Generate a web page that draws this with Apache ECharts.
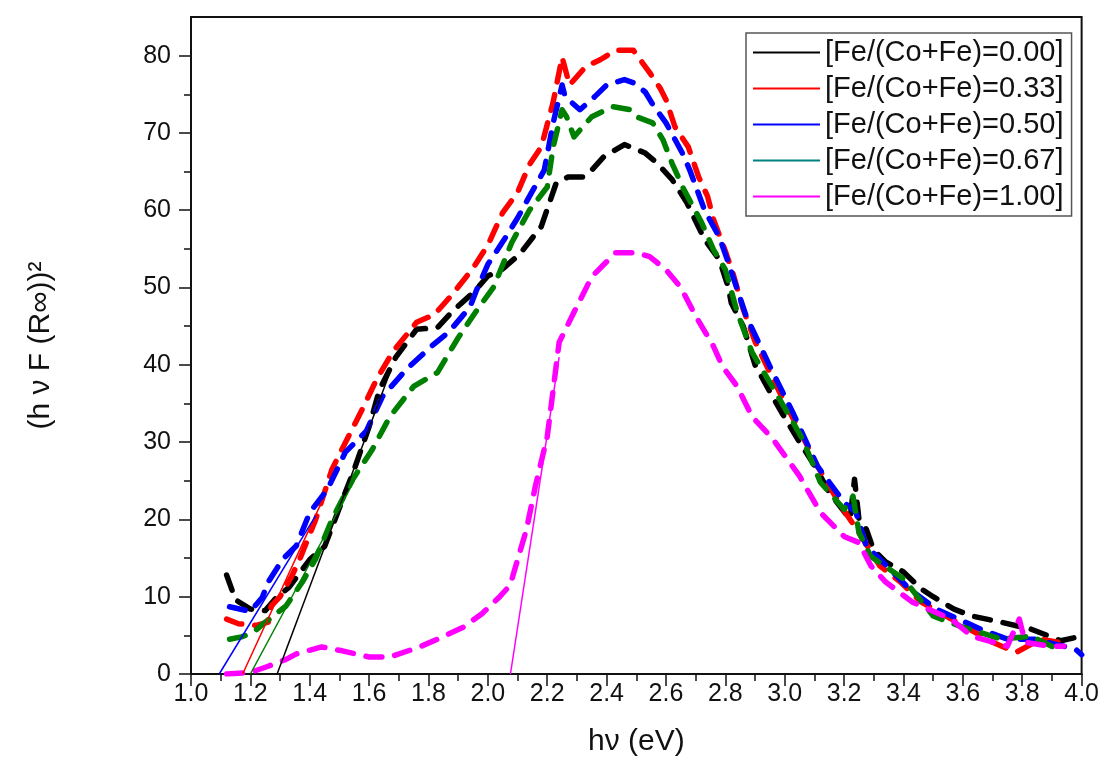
<!DOCTYPE html>
<html>
<head>
<meta charset="utf-8">
<script src="https://cdn.jsdelivr.net/npm/echarts@6/dist/echarts.min.js"></script>
<style>
html,body{margin:0;padding:0;background:#fff;}
#chart{width:1102px;height:762px;}
</style>
</head>
<body>
<div id="chart"></div>
<script>
// ---- data ----
const seriesNames = ['[Fe/(Co+Fe)=0.00]', '[Fe/(Co+Fe)=0.33]', '[Fe/(Co+Fe)=0.50]', '[Fe/(Co+Fe)=0.67]', '[Fe/(Co+Fe)=1.00]'];
const xTicks = [1.0, 4.0, 0.2];
const yMajorTicks = [0, 10, 20, 30, 40, 50, 60, 70, 80];
const yMinorTicks = [5, 15, 25, 35, 45, 55, 65, 75];

const fe000 = [[1.12,12.8],[1.15,9.6],[1.2,8.4],[1.25,8.2],[1.29,10],[1.33,11.2],[1.4,14.8],[1.45,16.5],[1.5,21.5],[1.55,26.5],[1.6,32],[1.635,36.8],[1.69,41],[1.76,44.6],[1.83,44.8],[1.88,46.9],[1.955,49.5],[2.0,51.5],[2.046,52.3],[2.107,54.3],[2.18,57.9],[2.23,63.5],[2.27,64.3],[2.32,64.3],[2.35,65.2],[2.39,66.9],[2.46,68.5],[2.53,67.4],[2.57,66.1],[2.62,64],[2.67,61],[2.73,56.2],[2.78,53.6],[2.81,50],[2.82,48],[2.86,45],[2.9,40],[2.95,36.5],[2.99,33.8],[3.05,30],[3.1,27],[3.15,23.5],[3.2,21],[3.22,20],[3.235,25.2],[3.25,20],[3.275,18.7],[3.3,16],[3.34,14.5],[3.4,13.2],[3.46,11],[3.5,10],[3.57,8.4],[3.63,7.5],[3.73,6.7],[3.83,5.8],[3.93,4.3],[4.0,4.9]];
const fe033 = [[1.12,7.1],[1.16,6.5],[1.22,6.3],[1.26,6.7],[1.27,8.8],[1.3,10],[1.34,12.7],[1.37,15.2],[1.42,20],[1.475,26.5],[1.53,30.7],[1.58,34.5],[1.625,38.1],[1.68,41.7],[1.76,45.5],[1.82,46.5],[1.88,49.1],[1.95,52.5],[2.0,55.5],[2.05,59.7],[2.1,62.3],[2.14,65.9],[2.18,68.2],[2.22,74],[2.25,79.8],[2.275,76.2],[2.33,78.6],[2.38,79.5],[2.43,80.7],[2.49,80.7],[2.545,77.8],[2.58,75.8],[2.6,74.3],[2.63,70.8],[2.675,68.2],[2.71,64.3],[2.74,61.8],[2.76,58.8],[2.8,54.7],[2.825,51.9],[2.86,47.2],[2.9,43],[2.94,39.8],[3.0,35.1],[3.07,30],[3.11,26.9],[3.19,21.7],[3.25,18.3],[3.32,14],[3.39,11.9],[3.46,9.3],[3.58,6.7],[3.7,4.1],[3.78,2.8],[3.86,4.5],[3.92,4.1]];
const fe050 = [[1.13,8.7],[1.2,8.1],[1.24,9.9],[1.26,11.9],[1.31,14.9],[1.355,16.6],[1.4,20.9],[1.46,23.9],[1.52,28.7],[1.59,31.4],[1.645,35.9],[1.725,39.4],[1.81,42.4],[1.87,44.3],[1.94,47.5],[1.96,49.5],[2.0,53],[2.06,56.5],[2.1,59],[2.14,61.8],[2.19,65.2],[2.22,71.3],[2.25,76.2],[2.26,74.7],[2.31,73],[2.36,74.7],[2.4,76.2],[2.46,76.9],[2.49,76.5],[2.53,75.3],[2.56,73.4],[2.6,71.3],[2.655,67.4],[2.68,65.2],[2.73,60],[2.78,56.5],[2.81,53.2],[2.87,46.3],[2.95,39.8],[3.03,33.6],[3.11,26.9],[3.2,22.2],[3.24,20.9],[3.275,16.5],[3.32,14.9],[3.42,11],[3.51,8.4],[3.66,5.8],[3.75,4.5],[3.84,4.5],[3.98,3.2],[4.0,2.5]];
const fe067 = [[1.13,4.5],[1.17,4.8],[1.21,5.4],[1.25,6.7],[1.32,8.8],[1.375,11.9],[1.42,14.9],[1.475,20],[1.545,25.2],[1.61,29],[1.67,33.3],[1.75,37.2],[1.83,39],[1.9,43.5],[1.96,46.9],[2.02,50.1],[2.08,55.8],[2.14,60],[2.2,63],[2.22,68.2],[2.25,73],[2.265,72.1],[2.29,69.5],[2.35,72.1],[2.42,73.4],[2.48,73],[2.5,72.1],[2.555,71.3],[2.59,69.1],[2.62,66.1],[2.66,62.7],[2.72,58.4],[2.76,54.9],[2.8,52.3],[2.84,46.8],[2.89,41.6],[2.97,36.4],[3.06,30.4],[3.12,24.8],[3.2,21.3],[3.23,23],[3.25,18.3],[3.29,15.2],[3.4,12.3],[3.5,7.5],[3.59,6.2],[3.73,4.5],[3.83,4.9],[3.92,3.2]];
const fe100 = [[1.12,0],[1.2,0.2],[1.26,1],[1.32,1.9],[1.355,2.6],[1.44,3.5],[1.51,3],[1.6,2.2],[1.67,2.2],[1.77,3.5],[1.83,4.5],[1.915,6],[1.98,7.8],[2.04,10],[2.075,11.5],[2.13,18.7],[2.16,24.3],[2.2,30.7],[2.22,36.8],[2.24,42.9],[2.29,46.8],[2.35,51.4],[2.43,54.5],[2.5,54.5],[2.545,54],[2.6,52.3],[2.65,50],[2.7,46.3],[2.76,42.4],[2.79,39.8],[2.84,37.2],[2.89,33.3],[2.96,30.4],[3.05,25.6],[3.12,20.9],[3.2,17.8],[3.25,17],[3.29,14],[3.34,11.9],[3.43,9.3],[3.56,7.1],[3.63,4.9],[3.75,3.6],[3.79,7.1],[3.81,4.1],[3.89,3.6],[3.94,3.6]];

// tangent (band-gap) fit lines
const fit000 = [[1.29,0],[1.67,39]];
const fit033 = [[1.174,0],[1.443,22.5]];
const fit050 = [[1.095,0],[1.42,20.5]];
const fit067 = [[1.2,0],[1.55,25]];
const fit100 = [[2.076,0],[2.24,41]];

// ---- styles ----
const plotColors = ['#000000', '#ff0000', '#0000ff', '#008000', '#ff00ff'];
const legendColors = ['#000000', '#ff0000', '#0000ff', '#008080', '#ff00ff'];
const curves = [fe000, fe033, fe050, fe067, fe100];
const fits = [fit000, fit033, fit050, fit067, fit100];
const FONT = '"Liberation Sans", Arial, sans-serif';

const series = [];
curves.forEach((d, i) => {
  series.push({
    name: seriesNames[i], type: 'line', data: d, symbol: 'none', smooth: false,
    itemStyle: { color: plotColors[i] },
    lineStyle: { color: plotColors[i], width: 5.5, type: [16, 13], cap: 'round', join: 'round' },
    z: 2, silent: true
  });
});
fits.forEach((d, i) => {
  series.push({
    name: 'fit' + i, type: 'line', data: d, symbol: 'none',
    itemStyle: { color: plotColors[i] },
    lineStyle: { color: plotColors[i], width: 1.5, type: 'solid' },
    z: 3, silent: true
  });
});

const chart = echarts.init(document.getElementById('chart'), null, { renderer: 'canvas' });
chart.setOption({
  animation: false,
  backgroundColor: '#ffffff',
  grid: { left: 191, right: 20, top: 17, bottom: 87, show: true, borderColor: '#111', borderWidth: 2, backgroundColor: 'transparent' },
  legend: {
    orient: 'vertical', left: 746, top: 33,
    padding: [5, 8, 5, 7], itemGap: 7,
    itemWidth: 67, itemHeight: 2, icon: 'rect',
    backgroundColor: '#fff', borderColor: '#555', borderWidth: 1.5,
    textStyle: { fontFamily: FONT, fontSize: 29, color: '#111' },
    data: seriesNames.map((n, i) => ({ name: n, itemStyle: { color: legendColors[i] } }))
  },
  xAxis: {
    type: 'value', min: xTicks[0], max: xTicks[1], interval: xTicks[2],
    name: 'h\u03BD (eV)', nameLocation: 'middle', nameGap: 53,
    nameTextStyle: { fontFamily: FONT, fontSize: 30, color: '#111' },
    axisLine: { show: true, lineStyle: { color: '#111', width: 2 } },
    axisTick: { show: true, inside: false, length: 12, lineStyle: { color: '#111', width: 1.5 } },
    minorTick: { show: true, splitNumber: 2, length: 7, lineStyle: { color: '#111', width: 1.5 } },
    splitLine: { show: false },
    axisLabel: { fontFamily: FONT, fontSize: 25, color: '#111', margin: 8, formatter: v => v.toFixed(1) }
  },
  yAxis: [{
    type: 'value', min: 0, max: 85, interval: 10,
    name: '(h \u03BD F (R\u221E))\u00B2', nameLocation: 'middle', nameRotate: 90, nameGap: 135,
    nameTextStyle: { fontFamily: FONT, fontSize: 30, color: '#111' },
    axisLine: { show: true, lineStyle: { color: '#111', width: 2 } },
    axisTick: { show: true, inside: false, length: 12, customValues: yMajorTicks, lineStyle: { color: '#111', width: 1.5 } },
    splitLine: { show: false },
    axisLabel: { fontFamily: FONT, fontSize: 25, color: '#111', margin: 20, customValues: yMajorTicks }
  }, {
    type: 'value', min: 0, max: 85, position: 'left', offset: 0,
    axisLine: { show: false },
    axisTick: { show: true, inside: false, length: 7, customValues: yMinorTicks, lineStyle: { color: '#111', width: 1.5 } },
    axisLabel: { show: false }, splitLine: { show: false }
  }],
  series: series
});
</script>
</body>
</html>
